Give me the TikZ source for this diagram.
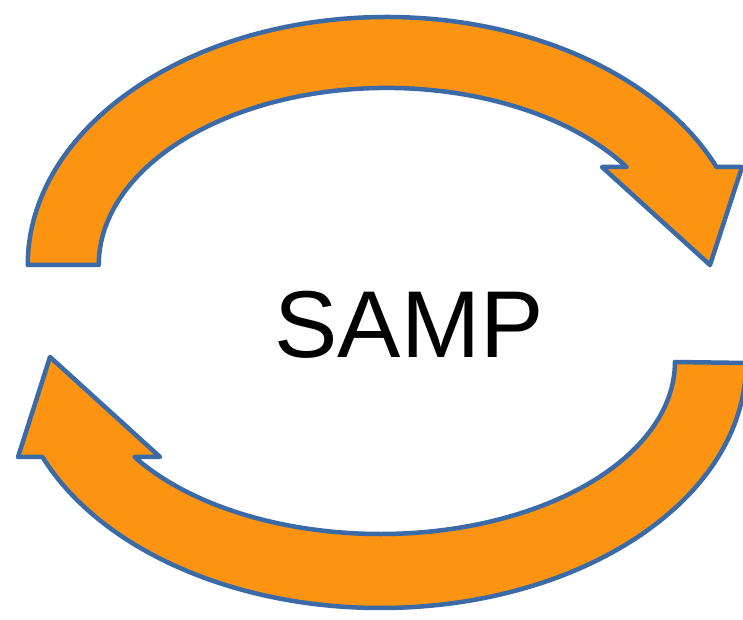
\documentclass[tikz,border=0pt]{standalone}
\usepackage{fontspec}
\setmainfont{Liberation Sans}
\usepackage{xcolor}
\usepackage{tikz}
\usetikzlibrary{calc, positioning}

\definecolor{sampOrange}{RGB}{252,148,18}
\definecolor{sampBlue}{RGB}{58,106,168}

\tikzset{
    cyclearrow/.style={fill=sampOrange, draw=sampBlue, line width=4.5pt, line join=round}
}

\begin{document}
\begin{tikzpicture}[x=1pt, y=1pt]
    \useasboundingbox (0,0) rectangle (743,620);
    % --- MUI TEN TREN: tu trai sang phai ---
    \def\cxa{386.75}
    \def\cya{355}
    \filldraw[cyclearrow] (\cxa-359,\cya)
        arc[start angle=180, end angle=23.3, x radius=359, y radius=248]
        -- (742,453) -- (710,355) -- (602,453) -- (626.6,453)
        arc[start angle=33.6, end angle=180, x radius=288, y radius=177]
        -- cycle;

    % --- MUI TEN DUOI: tu phai sang trai ---
    \def\cxb{380.25}
    \def\cyb{257}
    \filldraw[cyclearrow] (\cxb+365.75,\cyb)
        arc[start angle=360, end angle=202.56, x radius=365.75, y radius=245]
        -- (18,163) -- (50,263) -- (160,163) -- (134.5,163)
        arc[start angle=213.53, end angle=360, x radius=294.75, y radius=172]
        -- cycle;

    % Chu o giua
    \node[anchor=base, inner sep=0pt, font=\fontsize{95}{95}\selectfont] (samp) at (409,262) {SAMP};
\end{tikzpicture}
\end{document}
